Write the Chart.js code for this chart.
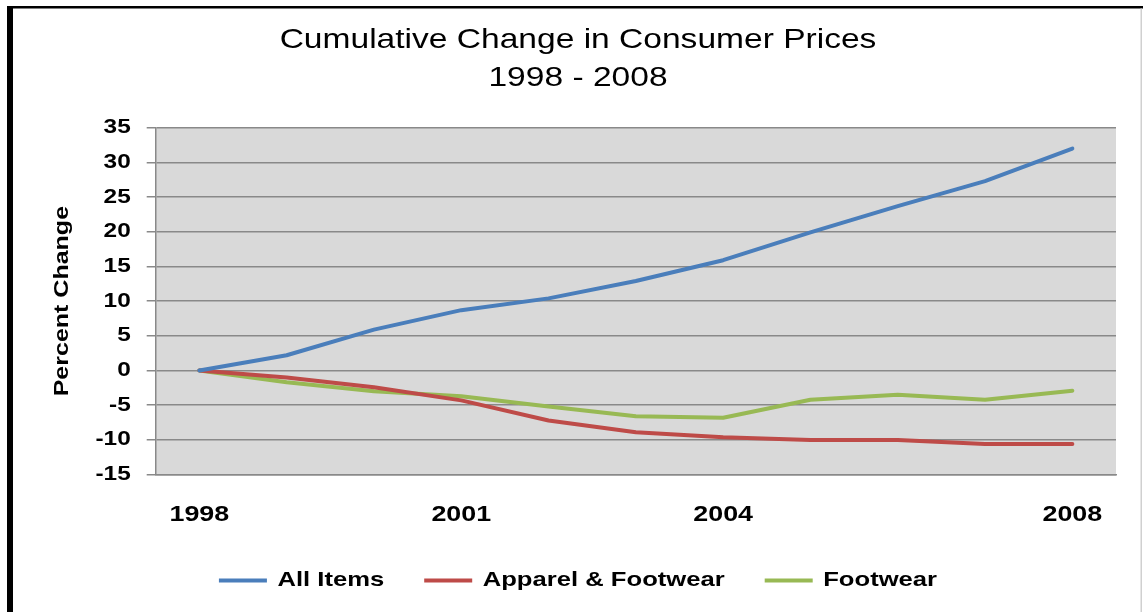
<!DOCTYPE html>
<html>
<head>
<meta charset="utf-8">
<script src="https://cdn.jsdelivr.net/npm/chart.js@4/dist/chart.umd.min.js"></script>
<style>
  body { margin: 0; background: #fff; }
  canvas { display: block; }
</style>
</head>
<body>
<canvas id="priceChart" width="1143" height="612"></canvas>
<script>
// values
var years = ['1998', '1999', '2000', '2001', '2002', '2003', '2004', '2005', '2006', '2007', '2008'];
var shownYears = ['1998', '2001', '2004', '2008'];
var allItems = [0, 2.2, 5.9, 8.7, 10.4, 12.9, 15.9, 19.9, 23.7, 27.3, 32.0];
var apparelFootwear = [0, -1.0, -2.4, -4.3, -7.2, -8.9, -9.6, -10.0, -10.0, -10.6, -10.6];
var footwear = [0, -1.7, -3.0, -3.7, -5.2, -6.6, -6.8, -4.2, -3.5, -4.2, -2.9];
var yTicks = { min: -15, max: 35, step: 5 };

var FONT = "'Liberation Sans', Arial, sans-serif";
var GRID = '#898989';
var STRETCH = 1.22;

// the old excel picture draws its text wide: stretch every string along its own direction
function stretchText(ctx) {
    var fill = ctx.fillText;
    var measure = ctx.measureText;
    ctx.fillText = function(text, x, y, maxWidth) {
        this.save();
        this.translate(x, y);
        this.scale(STRETCH, 1);
        if (maxWidth) {
            fill.call(this, text, 0, 0, maxWidth / STRETCH);
        } else {
            fill.call(this, text, 0, 0);
        }
        this.restore();
    };
    ctx.measureText = function(text) {
        var m = measure.call(this, text);
        return {
            width: m.width * STRETCH,
            actualBoundingBoxAscent: m.actualBoundingBoxAscent,
            actualBoundingBoxDescent: m.actualBoundingBoxDescent,
            actualBoundingBoxLeft: m.actualBoundingBoxLeft * STRETCH,
            actualBoundingBoxRight: m.actualBoundingBoxRight * STRETCH
        };
    };
    return ctx;
}

var frameAndPlotPlugin = {
    id: 'frameAndPlot',
    beforeDraw: (chart) => {
        const ctx = chart.ctx;
        const a = chart.chartArea;
        ctx.save();
        ctx.fillStyle = '#fff';
        ctx.fillRect(0, 0, chart.width, chart.height);
        // page frame
        ctx.fillStyle = '#000';
        ctx.fillRect(7, 6, 6, chart.height - 6);
        ctx.fillRect(7, 6, chart.width - 7, 2.5);
        ctx.fillStyle = '#d0d0d0';
        ctx.fillRect(1140.5, 8.5, 1.5, chart.height - 8.5);
        // plot area
        ctx.fillStyle = '#d9d9d9';
        ctx.fillRect(a.left, a.top, a.right - a.left, a.bottom - a.top);
        ctx.restore();
    }
};

function lineSet(label, data, color) {
    return {
        label: label,
        data: data,
        borderColor: color,
        backgroundColor: color,
        borderWidth: 4,
        pointRadius: 0,
        pointHoverRadius: 0,
        tension: 0,
        borderCapStyle: 'round',
        borderJoinStyle: 'round',
        fill: false
    };
}

var ctx = stretchText(document.getElementById('priceChart').getContext('2d'));

var chart = new Chart(ctx, {
    type: 'line',
    data: {
        labels: years,
        datasets: [
            lineSet('All Items', allItems, '#4a7ebb'),
            lineSet('Apparel & Footwear', apparelFootwear, '#be4b48'),
            lineSet('Footwear', footwear, '#98b954')
        ]
    },
    plugins: [frameAndPlotPlugin],
    options: {
        responsive: false,
        animation: false,
        layout: { padding: { top: 0, left: 40, right: 27, bottom: 11 } },
        plugins: {
            tooltip: { enabled: false },
            title: {
                display: true,
                text: ['Cumulative Change in Consumer Prices', '1998 - 2008'],
                color: '#000',
                font: { family: FONT, size: 27.5, weight: 'normal', lineHeight: 1.4 },
                padding: { top: 21, bottom: 29.7 }
            },
            legend: {
                display: true,
                position: 'bottom',
                labels: {
                    color: '#000',
                    font: { family: FONT, size: 21, weight: 'bold' },
                    usePointStyle: true,
                    pointStyle: 'line',
                    pointStyleWidth: 48,
                    padding: 40
                }
            }
        },
        scales: {
            x: {
                offset: true,
                grid: { display: false, drawTicks: false },
                border: { display: true, color: GRID, width: 1.5 },
                ticks: {
                    color: '#000',
                    font: { family: FONT, size: 22, weight: 'bold' },
                    padding: 27,
                    autoSkip: false,
                    maxRotation: 0,
                    callback: function(value) {
                        var lab = this.getLabelForValue(value);
                        return shownYears.indexOf(lab) >= 0 ? lab : '';
                    }
                },
                afterFit: function(scale) { scale.height = 55.4; }
            },
            y: {
                min: yTicks.min,
                max: yTicks.max,
                ticks: {
                    stepSize: yTicks.step,
                    color: '#000',
                    font: { family: FONT, size: 20, weight: 'bold' },
                    padding: 16
                },
                grid: { color: GRID, lineWidth: 1.5, tickLength: 9 },
                border: { display: true, color: GRID, width: 1.5 },
                title: {
                    display: true,
                    text: 'Percent Change',
                    color: '#000',
                    font: { family: FONT, size: 20.5, weight: 'bold' },
                    padding: { top: 10.4, bottom: 4.7 }
                },
                afterFit: function(scale) { scale.width = 115.7; }
            }
        }
    }
});
</script>
</body>
</html>
